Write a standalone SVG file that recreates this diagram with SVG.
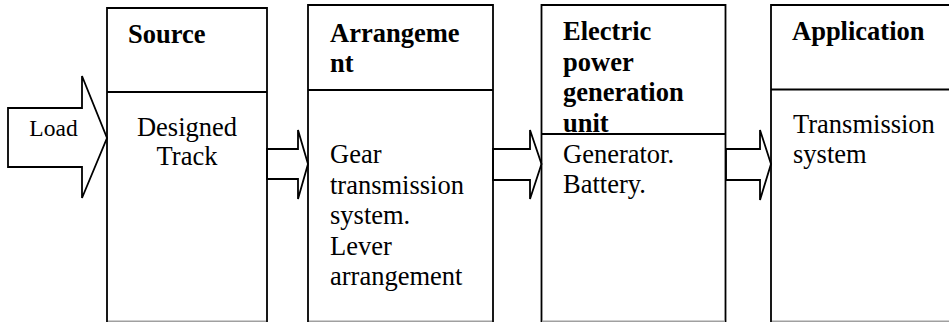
<svg xmlns="http://www.w3.org/2000/svg" width="949" height="322" viewBox="0 0 949 322">
<style>
.box{fill:none;stroke:#000;stroke-width:1.8}
.div{stroke:#000;stroke-width:1.8}
.bot{stroke:#a0a0a0;stroke-width:1.5}
.arrow{fill:#fff;stroke:#000;stroke-width:1.8;stroke-linejoin:miter}
text{font-family:'Liberation Serif','DejaVu Serif',serif;fill:#000}
.t{font-size:26.5px}
.b{font-weight:bold}
.load{font-size:23.5px}
</style>
<rect width="949" height="322" fill="#fff"/>
<g id="connectors">
<polygon class="arrow" points="8,108 82,108 82,76 107,138 82,198 82,167 8,167"/>
<polygon class="arrow" points="267,149 298,149 298,130 308,164 298,199 298,179 267,179"/>
<polygon class="arrow" points="493,149 530,149 530,130 541.5,164 530,199 530,180 493,180"/>
<polygon class="arrow" points="726,149 760,149 760,130 771,164 760,200 760,180 726,180"/>
<text class="load" x="53.5" y="136" text-anchor="middle" font-family="Liberation Serif, DejaVu Serif, serif">Load</text>
</g>
<g id="source">
<polyline class="box" points="107,322 107,8 267,8 267,322"/>
<line class="div" x1="107" y1="92" x2="267" y2="92"/>
<line class="bot" x1="108" y1="321.2" x2="266" y2="321.2"/>
<text class="t b" x="128" y="43" font-family="Liberation Serif, DejaVu Serif, serif">Source</text>
<text class="t" x="187" y="136" text-anchor="middle" font-family="Liberation Serif, DejaVu Serif, serif">Designed</text>
<text class="t" x="187" y="165" text-anchor="middle" font-family="Liberation Serif, DejaVu Serif, serif">Track</text>
</g>
<g id="arrangement">
<polyline class="box" points="308,322 308,5 493,5 493,322"/>
<line class="div" x1="308" y1="90" x2="493" y2="90"/>
<line class="bot" x1="309" y1="321.2" x2="492" y2="321.2"/>
<text class="t b" x="330" y="42" font-family="Liberation Serif, DejaVu Serif, serif">Arrangeme</text>
<text class="t b" x="330" y="72" font-family="Liberation Serif, DejaVu Serif, serif">nt</text>
<text class="t" x="330" y="163" font-family="Liberation Serif, DejaVu Serif, serif">Gear</text>
<text class="t" x="330" y="193.5" font-family="Liberation Serif, DejaVu Serif, serif">transmission</text>
<text class="t" x="330" y="224" font-family="Liberation Serif, DejaVu Serif, serif">system.</text>
<text class="t" x="330" y="254.5" font-family="Liberation Serif, DejaVu Serif, serif">Lever</text>
<text class="t" x="330" y="285" font-family="Liberation Serif, DejaVu Serif, serif">arrangement</text>
</g>
<g id="electric">
<polyline class="box" points="541.5,322 541.5,5 725.5,5 725.5,322"/>
<text class="t b" x="563" y="40" font-family="Liberation Serif, DejaVu Serif, serif">Electric</text>
<text class="t b" x="563" y="71" font-family="Liberation Serif, DejaVu Serif, serif">power</text>
<text class="t b" x="563" y="101" font-family="Liberation Serif, DejaVu Serif, serif">generation</text>
<text class="t b" x="563" y="132" font-family="Liberation Serif, DejaVu Serif, serif">unit</text>
<line class="div" x1="541.5" y1="134" x2="725.5" y2="134"/>
<line class="bot" x1="542.5" y1="321.2" x2="724.5" y2="321.2"/>
<text class="t" x="563" y="163" font-family="Liberation Serif, DejaVu Serif, serif">Generator.</text>
<text class="t" x="563" y="192.5" font-family="Liberation Serif, DejaVu Serif, serif">Battery.</text>
</g>
<g id="application">
<polyline class="box" points="771,322 771,5 950,5"/>
<line class="div" x1="771" y1="89.5" x2="949" y2="89.5"/>
<line class="bot" x1="772" y1="321.2" x2="949" y2="321.2"/>
<text class="t b" x="792" y="40" font-family="Liberation Serif, DejaVu Serif, serif">Application</text>
<text class="t" x="793" y="133" font-family="Liberation Serif, DejaVu Serif, serif">Transmission</text>
<text class="t" x="793" y="163" font-family="Liberation Serif, DejaVu Serif, serif">system</text>
</g>
</svg>
